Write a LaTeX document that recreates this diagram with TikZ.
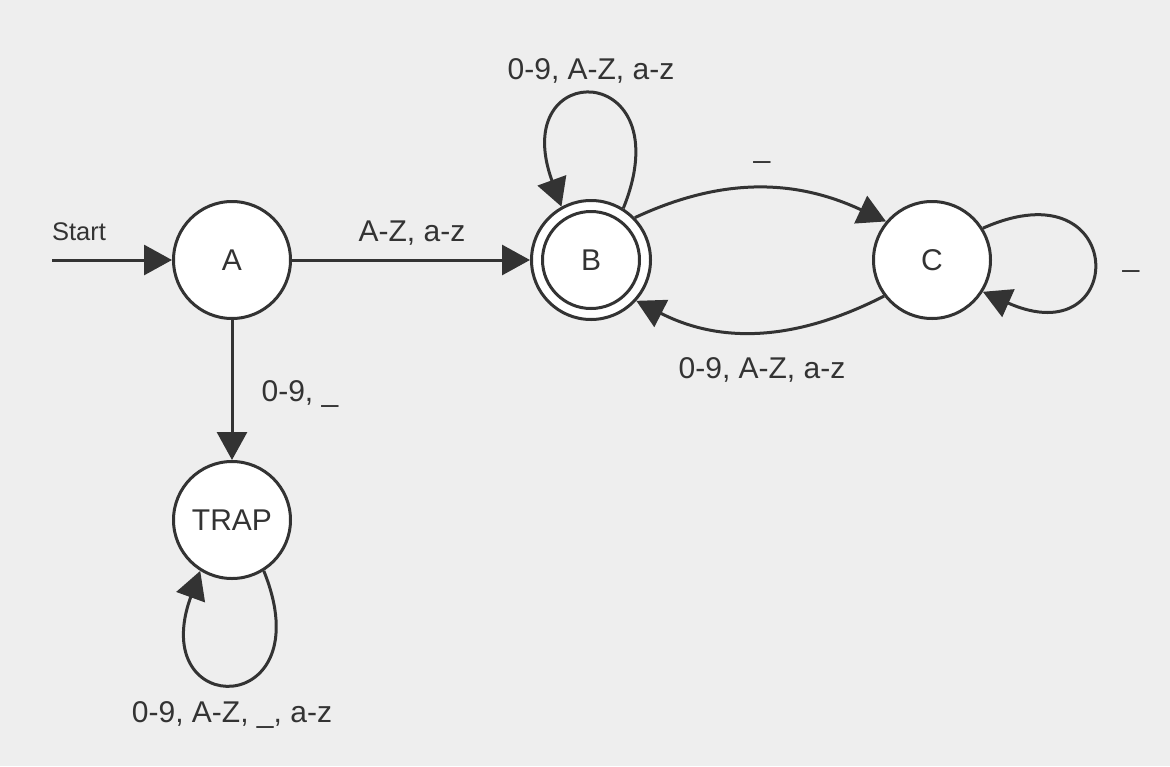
\documentclass[tikz,border=0pt]{standalone}
\usepackage{fontspec}
\setmainfont{Liberation Sans}
\usetikzlibrary{arrows.meta, positioning}
\definecolor{inkgray}{HTML}{333333}
\definecolor{bggray}{HTML}{EEEEEE}

\begin{document}
\begin{tikzpicture}[x=1pt, y=-1pt,
    state/.style={circle, draw=inkgray, line width=3pt, fill=white, minimum size=117pt,
        inner sep=0pt, text=inkgray, font=\fontsize{30}{36}\selectfont},
    trans/.style={draw=inkgray, line width=3pt, -{Triangle[length=28pt, width=30pt]}},
    lbl/.style={text=inkgray, font=\fontsize{30}{36}\selectfont, anchor=base, inner sep=0pt}]
    % Background
    \fill[bggray] (0,0) rectangle (1170,766);
    \useasboundingbox (0,0) rectangle (1170,766);
    % States
    \node[state] (A) at (232,260) {A};
    \node[state, minimum size=119pt] (B) at (591,260) {};
    \node[state, minimum size=97pt] (Bin) at (B) {B};
    \node[state] (C) at (932,260) {C};
    \node[state] (T) at (232,520) {TRAP};
    \coordinate (start) at (52,260);
    % Transitions
    \draw[trans] (start) -- (A);
    \draw[trans] (A) -- (B);
    \draw[trans] (A) -- (T);
    \draw[trans] (B.58) to[out=68, in=110, distance=160pt] (B.119);
    \draw[trans] (B.44) to[out=25, in=155] (C.140);
    \draw[trans] (C.-143) to[out=-153, in=-27] (B.-42);
    \draw[trans] (C.32) to[out=24, in=-24, distance=160pt] (C.-32);
    \draw[trans] (T.-58) to[out=-68, in=-110, distance=160pt] (T.-122);
    % Labels
    \node[lbl, font=\fontsize{25.5}{30}\selectfont] (lstart) at (79,240) {Start};
    \node[lbl] (lab) at (412,241) {A-Z, a-z};
    \node[lbl] (lat) at (300,401) {0-9, \_};
    \node[lbl] (lbb) at (591,79) {0-9, A-Z, a-z};
    \node[lbl] (lbc) at (762,157) {\_};
    \node[lbl] (lcb) at (762,378) {0-9, A-Z, a-z};
    \node[lbl] (lcc) at (1131,266) {\_};
    \node[lbl] (ltt) at (232,722) {0-9, A-Z, \_, a-z};
\end{tikzpicture}
\end{document}
